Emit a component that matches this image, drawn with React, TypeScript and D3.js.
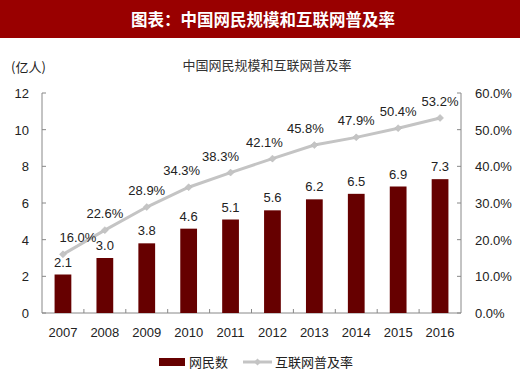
import { scaleBand, scaleLinear, line } from "d3";

const years = ["2007", "2008", "2009", "2010", "2011", "2012", "2013", "2014", "2015", "2016"];
const netizens = [2.1, 3.0, 3.8, 4.6, 5.1, 5.6, 6.2, 6.5, 6.9, 7.3];
const penetration = [16.0, 22.6, 28.9, 34.3, 38.3, 42.1, 45.8, 47.9, 50.4, 53.2];
const leftTicks = [0, 2, 4, 6, 8, 10, 12];
const rightTicks = [0, 10, 20, 30, 40, 50, 60];

const title = "图表：中国网民规模和互联网普及率";
const subtitle = "中国网民规模和互联网普及率";
const unitLabel = "(亿人)";
const barName = "网民数";
const lineName = "互联网普及率";

const sans = "'Liberation Sans', Arial, sans-serif";
const cjk = "'Noto Sans CJK SC', sans-serif";

export default function App() {
  const width = 520;
  const height = 384;
  const left = 42;
  const right = 461;
  const top = 93;
  const bottom = 313;

  const x = scaleBand().domain(years).range([left, right]).paddingInner(0.6).paddingOuter(0.3);
  const band = scaleBand().domain(years).range([left, right]);
  const yL = scaleLinear().domain([0, 12]).range([bottom, top]);
  const yR = scaleLinear().domain([0, 60]).range([bottom, top]);

  const cx = (d: string) => (band(d) ?? 0) + band.bandwidth() / 2;
  const pts = years.map((d, i) => [cx(d), yR(penetration[i])] as [number, number]);
  const path = line()(pts) ?? "";

  // label nudges to mimic the original layout
  const pctDx = [15, 0, 0, -7, -10, -8, -9, 0, 0, 0];

  return (
    <div style={{ position: "fixed", left: 0, top: 0 }}>
      <svg width={width} height={height} style={{ display: "block", background: "#fff" }}>
        <rect x={0} y={0} width={width} height={38} fill="#990000" />
        <text x={263} y={26} textAnchor="middle" fill="#fff" fontSize="16.5" fontWeight="700" fontFamily={cjk}>
          {title}
        </text>
        <text x={267} y={70} textAnchor="middle" fill="#333" fontSize="13" fontFamily={cjk}>
          {subtitle}
        </text>
        <text x={11} y={72} fill="#222" fontSize="13" fontFamily={cjk}>
          {unitLabel}
        </text>

        {/* axes */}
        <g stroke="#888" strokeWidth="1" fill="none">
          <line x1={left} x2={left} y1={top} y2={bottom} />
          <line x1={right} x2={right} y1={top} y2={bottom} />
          <line x1={left} x2={right} y1={bottom} y2={bottom} />
          {leftTicks.map((t) => (
            <line key={"l" + t} x1={left} x2={left + 4} y1={yL(t)} y2={yL(t)} />
          ))}
          {rightTicks.map((t) => (
            <line key={"r" + t} x1={right - 4} x2={right} y1={yR(t)} y2={yR(t)} />
          ))}
          {years.slice(1).map((d) => (
            <line key={"b" + d} x1={band(d) ?? 0} x2={band(d) ?? 0} y1={bottom - 4} y2={bottom} />
          ))}
        </g>

        {leftTicks.map((t) => (
          <text key={"lt" + t} x={29} y={yL(t) + 5} textAnchor="end" fontSize="13" fill="#222" fontFamily={sans}>
            {t}
          </text>
        ))}
        {rightTicks.map((t) => (
          <text key={"rt" + t} x={475} y={yR(t) + 5} fontSize="13" fill="#222" fontFamily={sans}>
            {t.toFixed(1) + "%"}
          </text>
        ))}
        {years.map((d) => (
          <text key={"x" + d} x={cx(d)} y={337} textAnchor="middle" fontSize="13" fill="#222" fontFamily={sans}>
            {d}
          </text>
        ))}

        {/* bars */}
        {years.map((d, i) => (
          <g key={"bar" + d}>
            <rect
              x={x(d) ?? 0}
              y={yL(netizens[i])}
              width={x.bandwidth()}
              height={bottom - yL(netizens[i])}
              fill="#660000"
            />
            <text x={cx(d)} y={yL(netizens[i]) - 8} textAnchor="middle" fontSize="13" fill="#222" fontFamily={sans}>
              {netizens[i].toFixed(1)}
            </text>
          </g>
        ))}

        {/* line */}
        <path d={path} fill="none" stroke="#c4c4c4" strokeWidth="3" />
        {pts.map(([px, py], i) => (
          <g key={"pt" + i}>
            <path d={`M${px - 3.5},${py} L${px},${py - 3.5} L${px + 3.5},${py} L${px},${py + 3.5} Z`} fill="#c4c4c4" stroke="#b8b8b8" strokeWidth="0.5" />
            <text x={px + pctDx[i]} y={py - 12} textAnchor="middle" fontSize="13" fill="#222" fontFamily={sans}>
              {penetration[i].toFixed(1) + "%"}
            </text>
          </g>
        ))}

        {/* legend */}
        <rect x={159} y={358} width={26} height={8} fill="#660000" />
        <text x={189} y={367} fontSize="13" fill="#222" fontFamily={cjk}>
          {barName}
        </text>
        <line x1={243} x2={272} y1={362} y2={362} stroke="#c4c4c4" strokeWidth="3" />
        <path d="M254,362 L257.5,358.5 L261,362 L257.5,365.5 Z" fill="#c4c4c4" />
        <text x={275} y={367} fontSize="13" fill="#222" fontFamily={cjk}>
          {lineName}
        </text>
      </svg>
    </div>
  );
}
